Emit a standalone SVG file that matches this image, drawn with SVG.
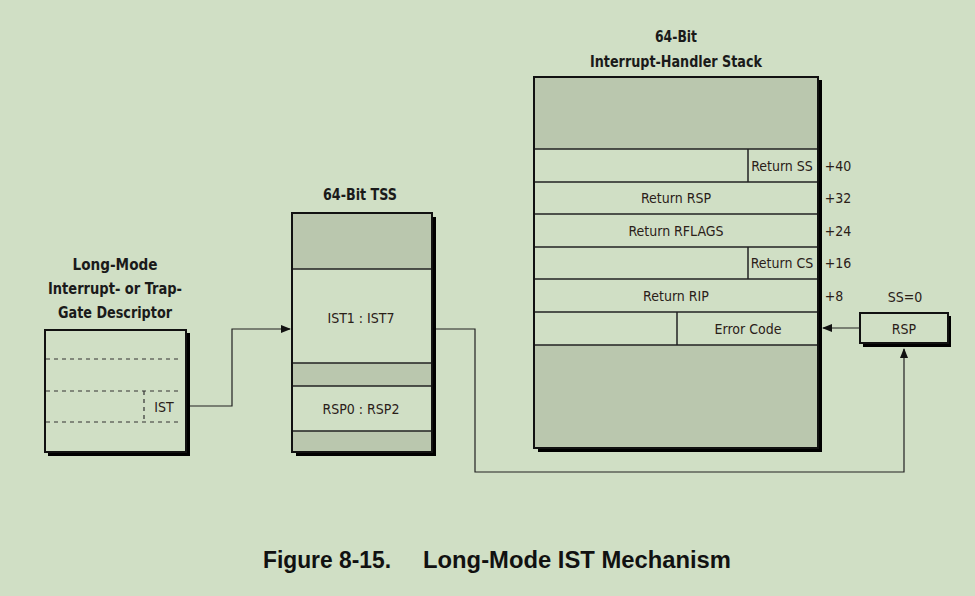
<svg xmlns="http://www.w3.org/2000/svg" width="975" height="596" viewBox="0 0 975 596">
<defs>
<marker id="ah" markerWidth="10" markerHeight="8" refX="9" refY="4" orient="auto" markerUnits="userSpaceOnUse">
<path d="M0,0 L10,4 L0,8 Z" fill="#111"/>
</marker>
<style>
.t{font-family:"DejaVu Sans Condensed","Liberation Sans",sans-serif;font-size:14px;fill:#2a2018;text-anchor:middle}
.h{font-family:"DejaVu Sans Condensed","Liberation Sans",sans-serif;font-size:16px;font-weight:bold;fill:#1a1a1a;text-anchor:middle}
.box{fill:#d0dfc5;stroke:#111;stroke-width:2}
.sh{fill:#000}
.g{fill:#bac7ae}
.ln{stroke:#222;stroke-width:1.5;fill:none}
.ds{stroke:#333;stroke-width:1.2;stroke-dasharray:4,4;fill:none}
.cn{stroke:#222;stroke-width:1.2;fill:none}
.cap{font-family:"Liberation Sans",Arial,sans-serif;font-size:23px;font-weight:bold;fill:#111}
</style>
</defs>
<rect width="975" height="596" fill="#d0dfc5"/>

<g id="descriptor">
<text class="h" x="115" y="270" textLength="85" lengthAdjust="spacingAndGlyphs">Long-Mode</text>
<text class="h" x="115" y="294" textLength="134" lengthAdjust="spacingAndGlyphs">Interrupt- or Trap-</text>
<text class="h" x="115" y="318" textLength="114" lengthAdjust="spacingAndGlyphs">Gate Descriptor</text>
<rect class="sh" x="48" y="333" width="142" height="123"/>
<rect class="box" x="45" y="330" width="141" height="122"/>
<line class="ds" x1="46" y1="359" x2="182" y2="359"/>
<line class="ds" x1="46" y1="391" x2="182" y2="391"/>
<line class="ds" x1="46" y1="422" x2="182" y2="422"/>
<line class="ds" x1="144" y1="391" x2="144" y2="422"/>
<text class="t" x="164" y="412">IST</text>
</g>

<g id="tss">
<text class="h" x="360" y="200" textLength="74" lengthAdjust="spacingAndGlyphs">64-Bit TSS</text>
<rect class="sh" x="296" y="217" width="140" height="239"/>
<rect class="box" x="292" y="213" width="140" height="239"/>
<rect class="g" x="293" y="214" width="138" height="55"/>
<rect class="g" x="293" y="363" width="138" height="23"/>
<rect class="g" x="293" y="431" width="138" height="20"/>
<line class="ln" x1="292" y1="269" x2="432" y2="269"/>
<line class="ln" x1="292" y1="363" x2="432" y2="363"/>
<line class="ln" x1="292" y1="386" x2="432" y2="386"/>
<line class="ln" x1="292" y1="431" x2="432" y2="431"/>
<rect x="292" y="213" width="140" height="239" fill="none" stroke="#111" stroke-width="2"/>
<text class="t" x="361" y="323">IST1 : IST7</text>
<text class="t" x="361" y="414">RSP0 : RSP2</text>
</g>

<g id="stack">
<text class="h" x="676" y="42" textLength="42" lengthAdjust="spacingAndGlyphs">64-Bit</text>
<text class="h" x="676" y="67" textLength="172" lengthAdjust="spacingAndGlyphs">Interrupt-Handler Stack</text>
<rect class="sh" x="538" y="80" width="284" height="372"/>
<rect class="box" x="534" y="77" width="284" height="371"/>
<rect class="g" x="535" y="78" width="282" height="71"/>
<rect class="g" x="535" y="345" width="282" height="102"/>
<line class="ln" x1="534" y1="149" x2="818" y2="149"/>
<line class="ln" x1="534" y1="182" x2="818" y2="182"/>
<line class="ln" x1="534" y1="214" x2="818" y2="214"/>
<line class="ln" x1="534" y1="247" x2="818" y2="247"/>
<line class="ln" x1="534" y1="279" x2="818" y2="279"/>
<line class="ln" x1="534" y1="312" x2="818" y2="312"/>
<line class="ln" x1="534" y1="345" x2="818" y2="345"/>
<line class="ln" x1="748" y1="149" x2="748" y2="182"/>
<line class="ln" x1="748" y1="247" x2="748" y2="279"/>
<line class="ln" x1="677" y1="312" x2="677" y2="345"/>
<rect x="534" y="77" width="284" height="371" fill="none" stroke="#111" stroke-width="2"/>
<text class="t" x="782" y="171">Return SS</text>
<text class="t" x="676" y="203">Return RSP</text>
<text class="t" x="676" y="236">Return RFLAGS</text>
<text class="t" x="782" y="268">Return CS</text>
<text class="t" x="676" y="301">Return RIP</text>
<text class="t" x="748" y="334">Error Code</text>
<text class="t" x="838" y="171">+40</text>
<text class="t" x="838" y="203">+32</text>
<text class="t" x="838" y="236">+24</text>
<text class="t" x="838" y="268">+16</text>
<text class="t" x="834" y="301">+8</text>
</g>

<g id="rsp">
<text class="t" x="905" y="302">SS=0</text>
<rect class="sh" x="863" y="316" width="88" height="31"/>
<rect class="box" x="860" y="313" width="88" height="30"/>
<text class="t" x="904" y="334">RSP</text>
</g>

<g id="connectors">
<polyline class="cn" points="190,406 232,406 232,329 290,329" marker-end="url(#ah)"/>
<polyline class="cn" points="436,329 475,329 475,472 904,472 904,349" marker-end="url(#ah)"/>
<line class="cn" x1="860" y1="328" x2="823" y2="328" marker-end="url(#ah)"/>
</g>

<text class="cap" x="263" y="568" textLength="128" lengthAdjust="spacingAndGlyphs">Figure 8-15.</text>
<text class="cap" x="423" y="568" textLength="308" lengthAdjust="spacingAndGlyphs">Long-Mode IST Mechanism</text>
</svg>
